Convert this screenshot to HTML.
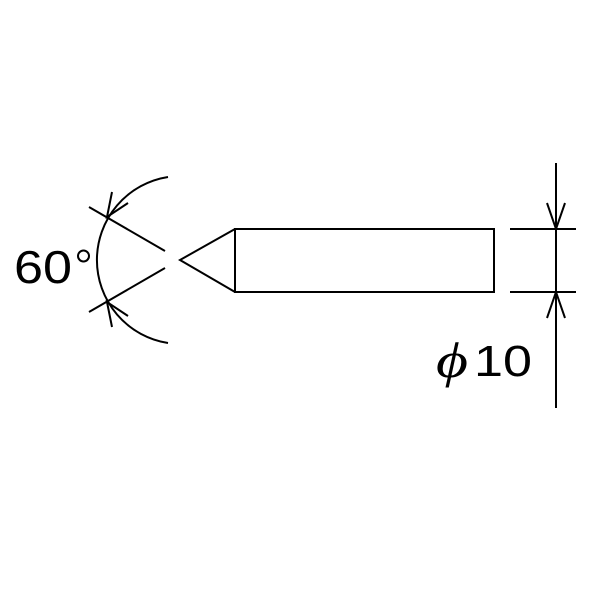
<!DOCTYPE html>
<html><head><meta charset="utf-8"><style>
html,body{margin:0;padding:0;background:#fff;}
svg{display:block;}
</style></head><body>
<svg width="600" height="600" viewBox="0 0 600 600" xmlns="http://www.w3.org/2000/svg">
<g stroke="#000" stroke-width="2" fill="none">
<rect x="235" y="229" width="259" height="63"/>
<polyline points="235,229 180,260 235,292"/>
<line x1="89" y1="207" x2="165" y2="251"/>
<line x1="165" y1="268" x2="89" y2="312"/>
<path d="M168,177 A84,84 0 0 0 168,343"/>
<polyline points="112,192 107,217 128,203"/>
<polyline points="112,327 107,302 128,316"/>
<line x1="510" y1="229" x2="576" y2="229"/>
<line x1="510" y1="292" x2="576" y2="292"/>
<line x1="556" y1="163" x2="556" y2="408"/>
<polyline points="547,203 556,229 565,203"/>
<polyline points="547,318 556,292 565,318"/>
</g>
<text x="14" y="283" font-family="Liberation Sans, sans-serif" font-size="46" fill="#000" textLength="58" lengthAdjust="spacingAndGlyphs">60</text>
<circle cx="83.5" cy="256" r="5.5" stroke="#000" stroke-width="2" fill="none"/>
<text x="436" y="377" font-family="Liberation Serif, serif" font-style="italic" font-size="50" fill="#000" textLength="32" lengthAdjust="spacingAndGlyphs">ϕ</text>
<text x="474" y="376" font-family="Liberation Sans, sans-serif" font-size="44" fill="#000" textLength="58" lengthAdjust="spacingAndGlyphs">10</text>
</svg>
</body></html>
